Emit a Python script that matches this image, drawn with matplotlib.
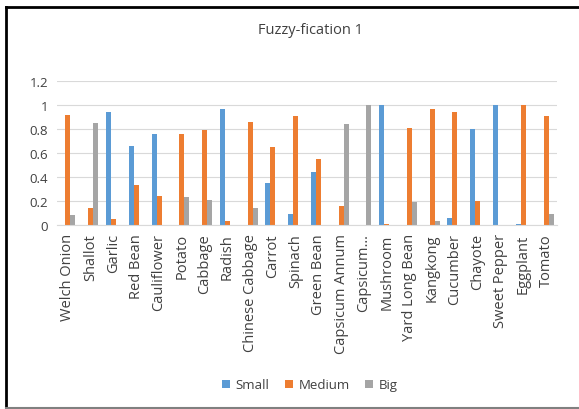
import numpy as np
import matplotlib.pyplot as plt
from matplotlib.lines import Line2D

# --- DATA ---
categories = ["Welch Onion", "Shallot", "Garlic", "Red Bean", "Cauliflower", "Potato",
              "Cabbage", "Radish", "Chinese Cabbage", "Carrot", "Spinach", "Green Bean",
              "Capsicum Annum", "Capsicum…", "Mushroom", "Yard Long Bean", "Kangkong",
              "Cucumber", "Chayote", "Sweet Pepper", "Eggplant", "Tomato"]
small = [0, 0, 0.94, 0.66, 0.76, 0, 0, 0.97, 0, 0.35, 0.09, 0.44,
         0, 0, 1.0, 0, 0, 0.06, 0.80, 1.0, 0.01, 0]
medium = [0.92, 0.14, 0.05, 0.33, 0.24, 0.76, 0.79, 0.03, 0.86, 0.65, 0.91, 0.55,
          0.16, 0, 0.01, 0.81, 0.97, 0.94, 0.20, 0, 1.0, 0.91]
big = [0.08, 0.85, 0, 0, 0, 0.23, 0.21, 0, 0.14, 0, 0, 0,
       0.84, 1.0, 0, 0.19, 0.03, 0, 0, 0, 0, 0.09]
yticks = [0, 0.2, 0.4, 0.6, 0.8, 1, 1.2]
ytick_labels = ["0", "0.2", "0.4", "0.6", "0.8", "1", "1.2"]

plt.rcParams['font.family'] = ['Open Sans', 'DejaVu Sans']

fig = plt.figure(figsize=(5.79, 4.10), dpi=100)
ax = fig.add_axes([56.6 / 579, 1 - 226 / 410, (557.4 - 56.6) / 579, (226 - 82) / 410])

x = np.arange(len(categories))
w = 0.22
ax.bar(x - w, small, w, color='#5B9BD5', label='Small')
ax.bar(x, medium, w, color='#ED7D31', label='Medium')
ax.bar(x + w, big, w, color='#A5A5A5', label='Big')

ax.set_ylim(0, 1.2)
ax.set_xlim(-0.5, len(categories) - 0.5)
ax.set_yticks(yticks)
ax.set_yticklabels(ytick_labels, fontsize=9.5, color='#404040')
ax.set_xticks(x)
ax.set_xticklabels(categories, rotation=90, fontsize=10.5, color='#404040')
ax.tick_params(length=0, pad=6)
ax.grid(axis='y', color='#D9D9D9', linewidth=0.8)
ax.set_axisbelow(True)
for s in ['top', 'right', 'left']:
    ax.spines[s].set_visible(False)
ax.spines['bottom'].set_color('#D9D9D9')

fig.text(310 / 579, 1 - 30 / 410, "Fuzzy-fication 1", ha='center', va='center',
         fontsize=10.5, color='#404040')
fig.legend(loc='center', bbox_to_anchor=(310 / 579, 1 - 386 / 410), ncol=3,
           frameon=False, fontsize=9.5, handlelength=0.6, handleheight=0.6,
           columnspacing=1.2, handletextpad=0.4, labelcolor='#404040')

# chart frame
fig.add_artist(Line2D([6 / 579, 6 / 579], [0, 1 - 8 / 410], color='black', lw=2,
                      transform=fig.transFigure))
fig.add_artist(Line2D([6 / 579, 1], [1 - 8 / 410, 1 - 8 / 410], color='black', lw=2,
                      transform=fig.transFigure))
fig.add_artist(Line2D([6 / 579, 1], [1 / 410, 1 / 410], color='#808080', lw=1.5,
                      transform=fig.transFigure))

fig.savefig("out.png", dpi=100)
